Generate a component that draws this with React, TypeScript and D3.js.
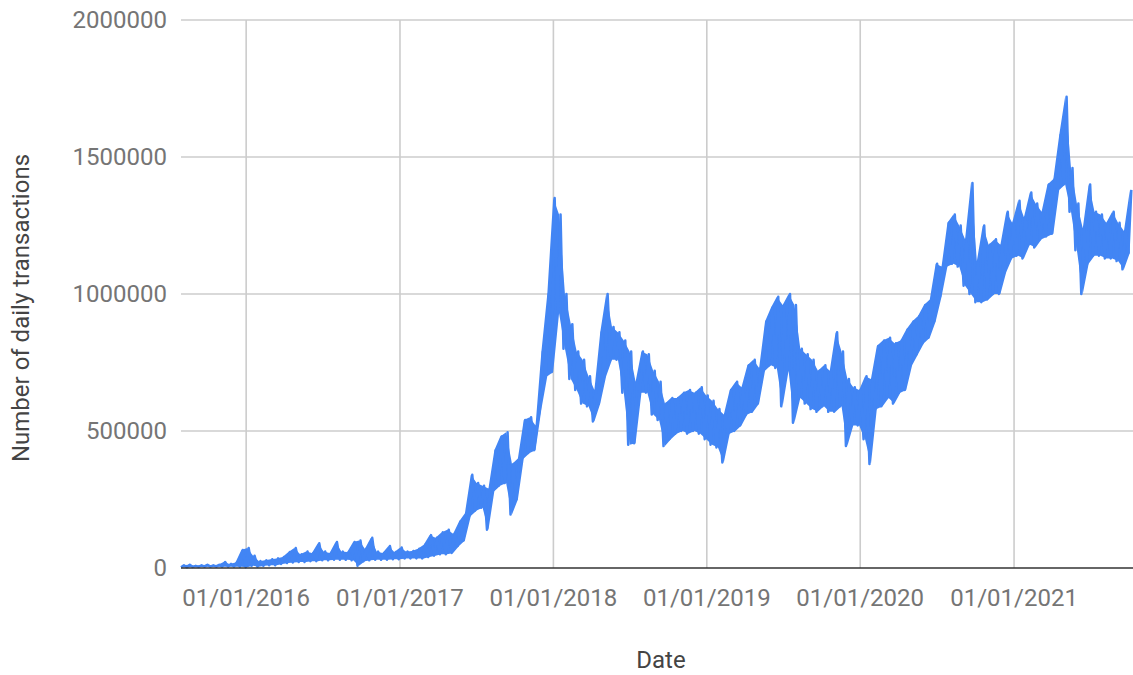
import React from 'react';
import * as d3 from 'd3';

// one reading every 14 days from the start date; each reading is the trough
// and the following peak of the daily swing, in thousands of transactions
const startDate = '2015-07-30';
const endDate = '2021-10-11';
const stepDays = 14;

const lowK = [
  3, 3, 4, 4, 5, 5, 5, 5, 5, 5,
  5, 3, 8, 5, 8, 10, 10, 15, 18, 20,
  22, 22, 25, 25, 28, 28, 30, 30, 30, 28,
  8, 25, 28, 30, 30, 30, 32, 32, 35, 35,
  35, 35, 40, 45, 50, 50, 55, 80, 100, 190,
  210, 220, 140, 280, 300, 310, 195, 250, 400, 420,
  430, 580, 700, 715, 930, 800, 690, 650, 600, 590,
  535, 600, 700, 760, 760, 640, 450, 455, 640, 640,
  560, 540, 445, 470, 490, 500, 490, 500, 490, 470,
  450, 440, 385, 490, 500, 520, 560, 570, 600, 720,
  740, 730, 590, 720, 530, 620, 600, 580, 570, 590,
  570, 570, 590, 445, 520, 520, 470, 380, 580, 590,
  620, 600, 640, 650, 740, 780, 820, 840, 900, 990,
  1100, 1110, 1100, 1030, 1000, 970, 970, 980, 1000, 1000,
  1080, 1130, 1140, 1130, 1180, 1170, 1200, 1210, 1220, 1380,
  1400, 1300, 1160, 1000, 1110, 1140, 1140, 1130, 1130, 1120,
  1090, 1150,
];

const highK = [
  10, 12, 8, 10, 12, 10, 12, 22, 15, 20,
  66, 73, 45, 25, 28, 32, 35, 40, 58, 73,
  50, 60, 55, 90, 60, 55, 95, 60, 58, 95,
  100, 70, 110, 60, 55, 80, 58, 75, 60, 62,
  70, 85, 120, 110, 130, 140, 125, 170, 200, 340,
  310, 300, 290, 430, 480, 495, 380, 400, 540, 550,
  520, 790, 1000, 1350, 1290, 1000, 890, 790, 760, 700,
  650, 860, 1000, 880, 860, 830, 790, 680, 790, 780,
  720, 680, 600, 620, 620, 640, 650, 640, 660, 630,
  610, 580, 560, 650, 680, 660, 740, 760, 730, 900,
  950, 990, 960, 1000, 960, 800, 780, 760, 720, 740,
  720, 860, 790, 690, 660, 650, 700, 690, 810, 830,
  840, 820, 830, 870, 900, 920, 960, 980, 1110, 1100,
  1260, 1290, 1250, 1200, 1405, 1120, 1250, 1180, 1200, 1180,
  1300, 1260, 1340, 1280, 1370, 1330, 1300, 1400, 1420, 1580,
  1720, 1460, 1330, 1240, 1400, 1300, 1290, 1260, 1300, 1260,
  1230, 1380,
];

const yTicks = [0, 500000, 1000000, 1500000, 2000000];
const xTicks = ['2016-01-01', '2017-01-01', '2018-01-01', '2019-01-01', '2020-01-01', '2021-01-01'];

const W = 1133;
const H = 675;
const left = 181;
const right = 1133;
const top = 20;
const bottom = 568;

const blue = '#4285f4';
const font = 'Roboto, sans-serif';

export default function App() {
  const x = d3.scaleUtc()
    .domain([new Date(startDate), new Date(endDate)])
    .range([left, right]);
  const y = d3.scaleLinear().domain([0, 2000000]).range([bottom, top]);

  const day = 24 * 3600 * 1000;
  const t0 = new Date(startDate).getTime();
  const points: [Date, number][] = [];
  lowK.forEach((lo, i) => {
    const d = t0 + i * stepDays * day;
    points.push([new Date(d), lo * 1000]);
    points.push([new Date(d + (stepDays / 2) * day), highK[i] * 1000]);
  });

  const line = d3.line<[Date, number]>()
    .x(d => x(d[0]))
    .y(d => y(d[1]));

  // the day-to-day swing is so dense in the original that it reads as a solid band
  const band = d3.area<number>()
    .x((_, i) => x(new Date(t0 + (i * stepDays + stepDays / 4) * day)))
    .y0(lo => y(lo * 1000))
    .y1((_, i) => y(highK[i] * 1000));

  const fmt = d3.utcFormat('%d/%m/%Y');

  return (
    <svg width={W} height={H} style={{ position: 'absolute', left: 0, top: 0, fontFamily: font }}>
      <rect width={W} height={H} fill="#fff" />
      {yTicks.filter(v => v > 0).map(v => (
        <line key={v} x1={left} x2={right} y1={y(v)} y2={y(v)} stroke="#cccccc" strokeWidth={1.6} />
      ))}
      {xTicks.map(t => (
        <line key={t} x1={x(new Date(t))} x2={x(new Date(t))} y1={top} y2={bottom} stroke="#cccccc" strokeWidth={1.6} />
      ))}
      <path d={band(lowK) ?? ''} fill={blue} stroke="none" />
      <path d={line(points) ?? ''} fill="none" stroke={blue} strokeWidth={2.5} strokeLinejoin="round" />
      <line x1={left} x2={right} y1={bottom} y2={bottom} stroke="#333" strokeWidth={1.6} />
      {yTicks.map(v => (
        <text key={v} x={167} y={y(v)} dy="0.35em" textAnchor="end" fontSize={24} fill="#757575">{v}</text>
      ))}
      {xTicks.map(t => (
        <text key={t} x={x(new Date(t))} y={606} textAnchor="middle" fontSize={24} fill="#757575">{fmt(new Date(t))}</text>
      ))}
      <text x={661} y={668} textAnchor="middle" fontSize={24} fill="#444">Date</text>
      <text transform={`translate(29,${(top + bottom) / 2 + 14}) rotate(-90)`} textAnchor="middle" fontSize={24} fill="#444">
        Number of daily transactions
      </text>
    </svg>
  );
}
